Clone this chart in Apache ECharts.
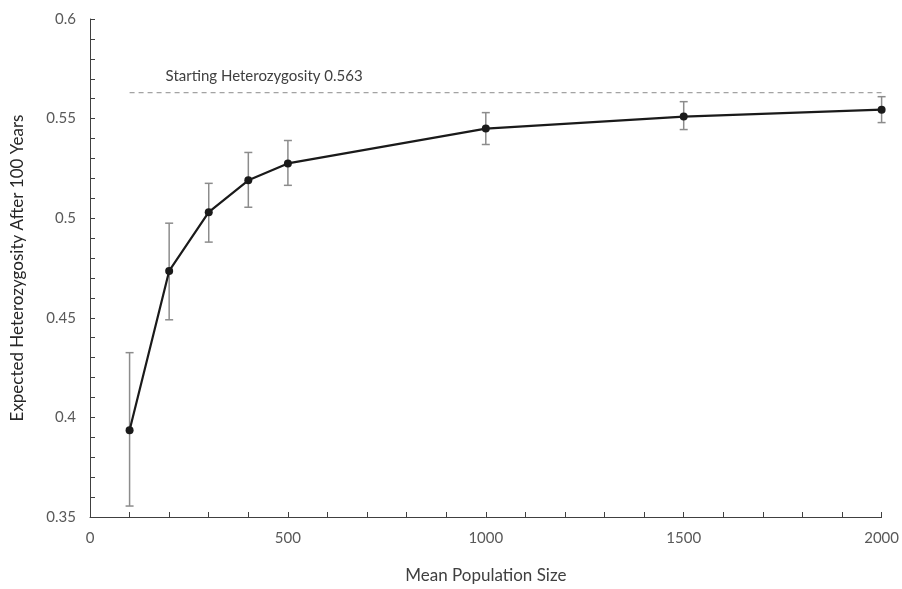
<!DOCTYPE html>
<html>
<head>
<meta charset="utf-8">
<script src="https://cdn.jsdelivr.net/npm/echarts@6/dist/echarts.min.js"></script>
<style>
  html, body { margin: 0; padding: 0; background: #fff; }
  #main { width: 902px; height: 589px; }
</style>
</head>
<body>
<div id="main"></div>
<script>
// 数据
var popSize = [100, 200, 300, 400, 500, 1000, 1500, 2000];
var heteroMean = [0.3935, 0.4735, 0.503, 0.519, 0.5275, 0.545, 0.551, 0.5545];
var errLow = [0.3555, 0.449, 0.488, 0.5055, 0.5165, 0.537, 0.5445, 0.548];
var errHigh = [0.4325, 0.4975, 0.5175, 0.533, 0.539, 0.553, 0.5585, 0.561];
var startH = 0.563;
var startLabel = 'Starting Heterozygosity 0.563';

var myChart = echarts.init(document.getElementById('main'));

var lineData = popSize.map(function (x, i) { return [x, heteroMean[i]]; });
var errData = popSize.map(function (x, i) { return [x, errLow[i], errHigh[i]]; });

var option = {
    animation: false,
    textStyle: { fontFamily: 'Lato' },
    grid: {
        left: 90,
        right: 18,
        top: 19,
        bottom: 70
    },
    xAxis: {
        type: 'value',
        min: 0,
        max: 2000,
        interval: 500,
        name: 'Mean Population Size',
        nameLocation: 'middle',
        nameGap: 50,
        nameTextStyle: { fontSize: 17, color: '#404040', fontFamily: 'Lato' },
        axisLine: { lineStyle: { color: '#404040', width: 1 } },
        axisTick: { show: true, inside: true, length: 5, lineStyle: { color: '#404040' } },
        minorTick: { show: true, splitNumber: 5, length: 5, lineStyle: { color: '#404040' } },
        axisLabel: { fontSize: 15, color: '#595959', margin: 14, formatter: function (v) { return String(v); } },
        splitLine: { show: false }
    },
    yAxis: {
        type: 'value',
        min: 0.35,
        max: 0.6,
        interval: 0.05,
        name: 'Expected Heterozygosity After 100 Years',
        nameLocation: 'middle',
        nameGap: 64,
        nameRotate: 90,
        nameTextStyle: { fontSize: 17, color: '#262626', fontFamily: 'Lato' },
        axisLine: { show: true, lineStyle: { color: '#404040', width: 1 } },
        axisTick: { show: true, inside: true, length: 5, lineStyle: { color: '#404040' } },
        minorTick: { show: true, splitNumber: 5, length: 5, lineStyle: { color: '#404040' } },
        axisLabel: { fontSize: 15, color: '#595959', margin: 14 },
        splitLine: { show: false }
    },
    series: [
        {
            // 起始杂合度虚线
            type: 'line',
            data: [
                {
                    value: [popSize[0], startH],
                    label: {
                        show: true,
                        position: 'top',
                        align: 'left',
                        offset: [36, -4],
                        formatter: startLabel,
                        fontSize: 15,
                        color: '#404040',
                        fontFamily: 'Lato'
                    }
                },
                [popSize[popSize.length - 1], startH]
            ],
            symbol: 'circle',
            symbolSize: 0,
            showSymbol: true,
            lineStyle: { color: '#8c8c8c', width: 1, type: [5, 4] },
            silent: true,
            z: 1
        },
        {
            // 误差线
            type: 'custom',
            data: errData,
            renderItem: function (params, api) {
                var x = api.value(0);
                var lo = api.coord([x, api.value(1)]);
                var hi = api.coord([x, api.value(2)]);
                var cap = 4;
                var style = { stroke: '#8c8c8c', lineWidth: 1.5, fill: null };
                return {
                    type: 'group',
                    children: [
                        { type: 'line', shape: { x1: lo[0], y1: lo[1], x2: hi[0], y2: hi[1] }, style: style },
                        { type: 'line', shape: { x1: lo[0] - cap, y1: lo[1], x2: lo[0] + cap, y2: lo[1] }, style: style },
                        { type: 'line', shape: { x1: hi[0] - cap, y1: hi[1], x2: hi[0] + cap, y2: hi[1] }, style: style }
                    ]
                };
            },
            z: 2
        },
        {
            type: 'line',
            data: lineData,
            symbol: 'circle',
            symbolSize: 8,
            itemStyle: { color: '#1a1a1a' },
            lineStyle: { color: '#1a1a1a', width: 2.2 },
            z: 3
        }
    ]
};

myChart.setOption(option);
window.addEventListener("resize", function () {
    myChart.resize();
});
</script>
</body>
</html>
